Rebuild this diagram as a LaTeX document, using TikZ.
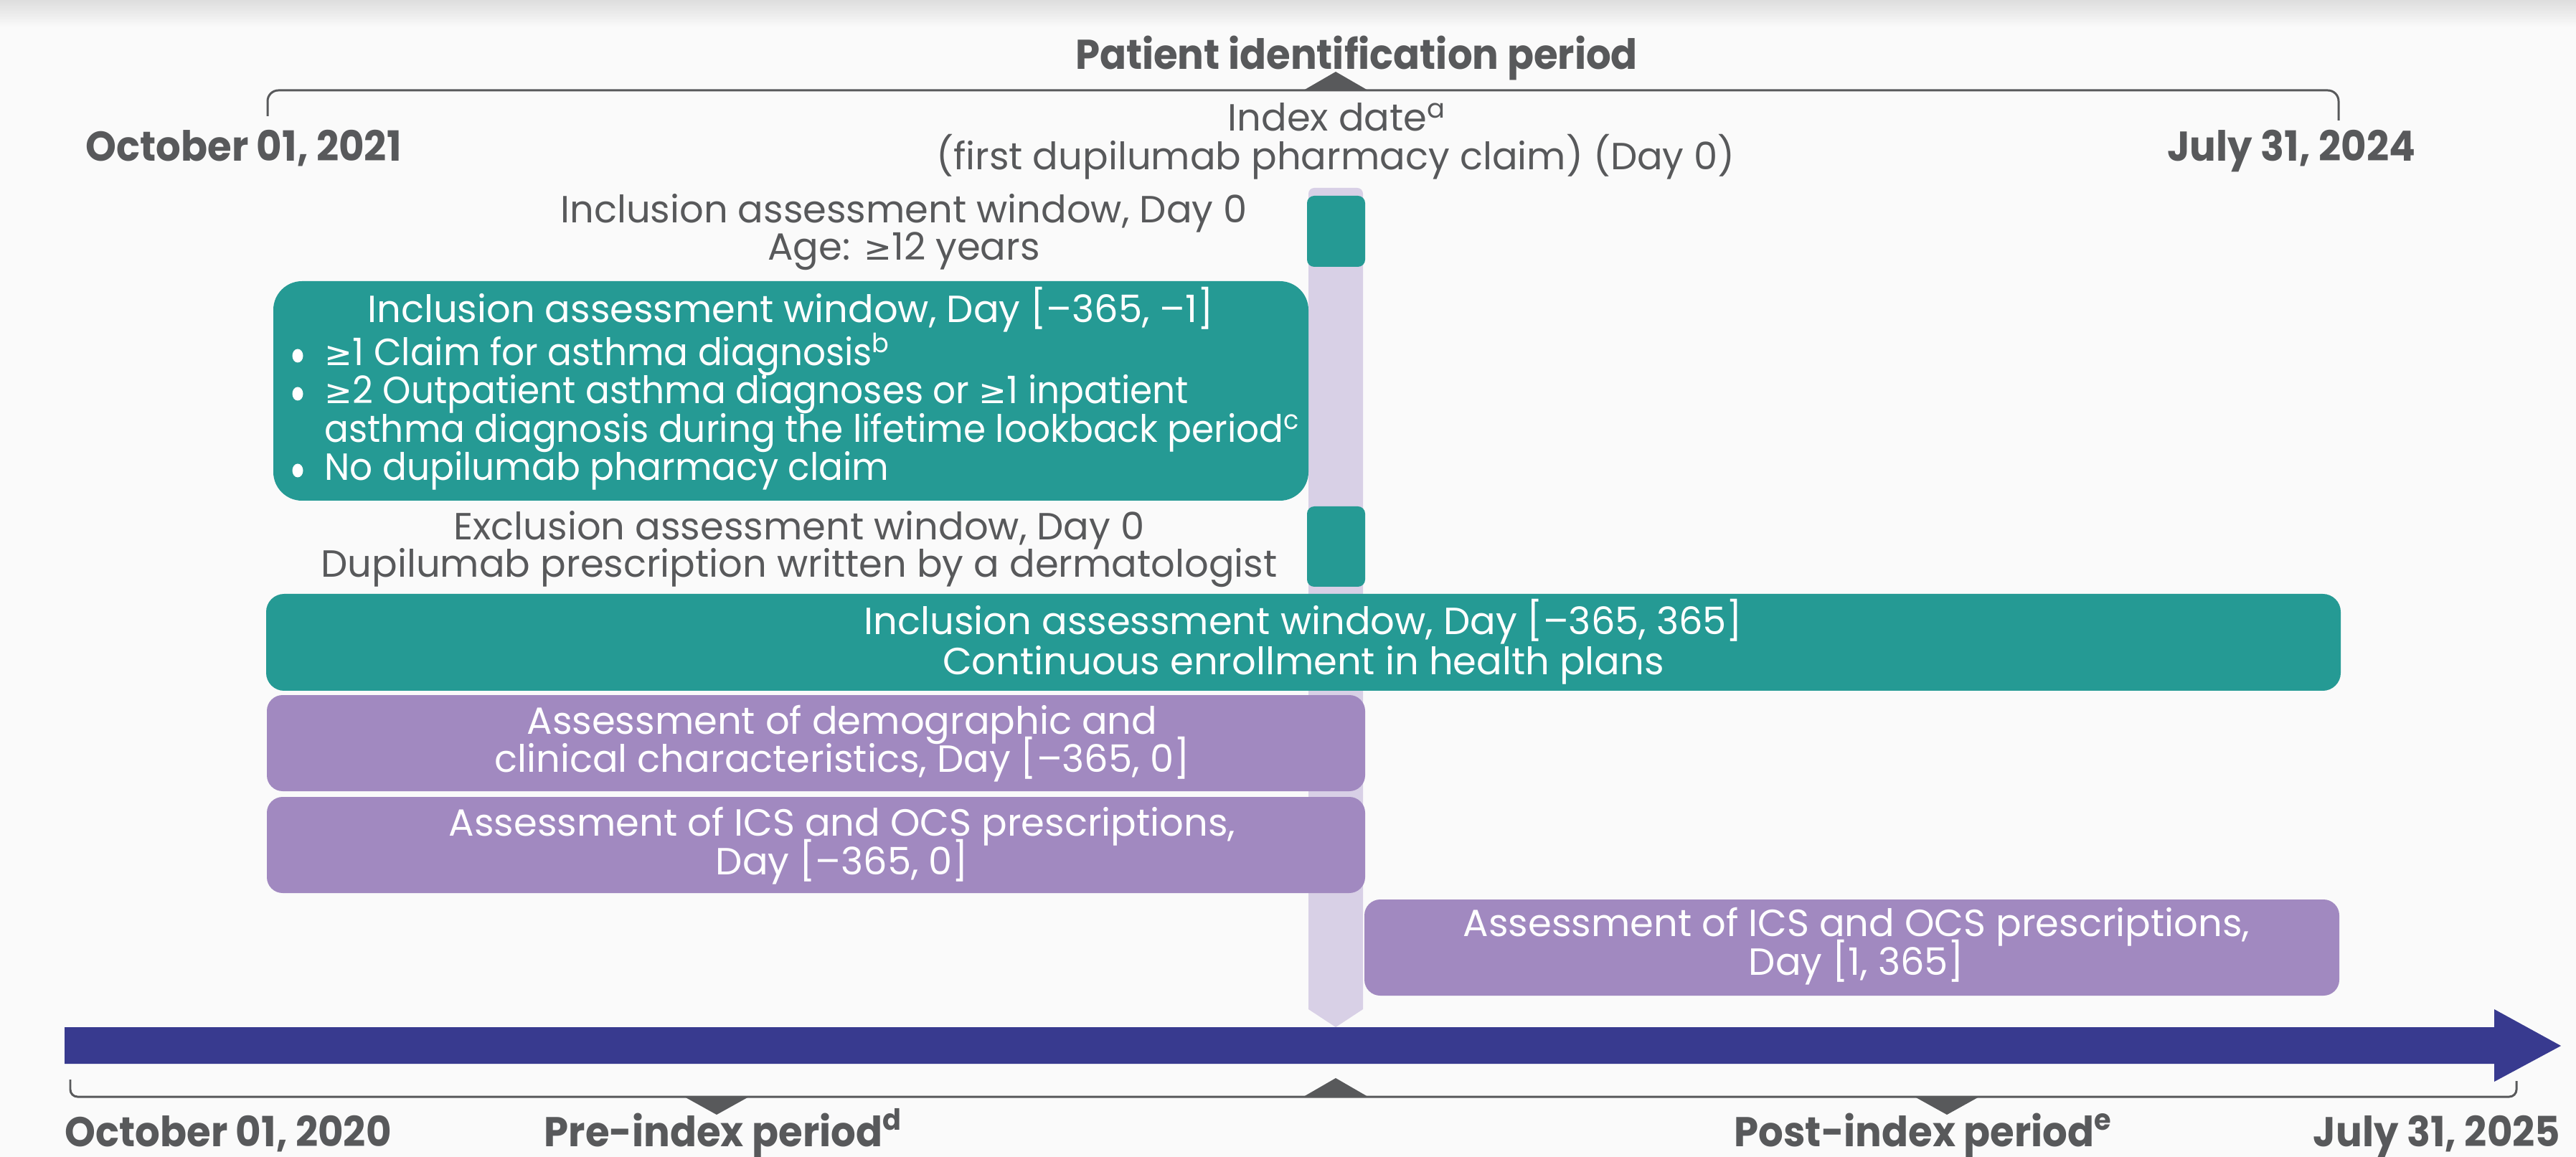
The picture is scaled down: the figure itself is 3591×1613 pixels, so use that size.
\documentclass[tikz,border=0pt]{standalone}
\usepackage{fontspec}
\setmainfont{Poppins}[BoldFeatures={FakeStretch=0.94}]
\newfontfamily\narrowfont{Poppins}[FakeStretch=0.95]
\newfontfamily\symfont{DejaVu Sans}[Scale=0.88]
\newcommand{\gesym}{{\symfont ≥}}
\definecolor{bgc}{HTML}{FAFAFA}
\definecolor{teal}{HTML}{259A94}
\definecolor{purp}{HTML}{A189C0}
\definecolor{lav}{HTML}{D8D0E6}
\definecolor{navy}{HTML}{383A8F}
\definecolor{gtxt}{HTML}{58595B}
\tikzset{
  reg/.style={inner sep=0pt, font=\fontsize{15pt}{15pt}\selectfont},
  graytxt/.style={reg, text=gtxt},
  whitetxt/.style={reg, text=white},
  bultxt/.style={inner sep=0pt, text=white, font=\fontsize{15pt}{15pt}\narrowfont},
  bul/.style={ellipse, fill=white, inner sep=0pt, minimum width=0.15cm, minimum height=0.19cm},
  boldtxt/.style={inner sep=0pt, text=gtxt, font=\fontsize{16.5pt}{16.5pt}\selectfont\bfseries},
  bracket/.style={draw=gtxt, line width=0.85pt},
  tri/.style={fill=gtxt},
}
\usetikzlibrary{shapes.geometric}
\begin{document}
\begin{tikzpicture}[x=0.01cm,y=-0.01cm]
\useasboundingbox (0,0) rectangle (3591,1613);
\fill[bgc] (0,0) rectangle (3591,1613);
\shade[top color=black!13, bottom color=bgc] (0,0) rectangle (3591,38);

% top bracket
\coordinate (tbl) at (373,162);
\coordinate (tbr) at (3260,168);
\draw[bracket, rounded corners=0.15cm] (tbl) |- (1862,126) -| (tbr);
\fill[tri] (1817,126) -- (1862,100) -- (1907,126) -- cycle;
\node[boldtxt, anchor=base] (pip) at (1891,97) {Patient identification period};
\node[boldtxt, anchor=base west] (d2021) at (119,225) {October 01, 2021};
\node[boldtxt, anchor=base east] (d2024) at (3368,225) {July 31, 2024};
\node[graytxt, anchor=base] (idx1) at (1864,183) {Index date\textsuperscript{a}};
\node[graytxt, anchor=base] (idx2) at (1862,237) {(first dupilumab pharmacy claim) (Day 0)};

% lavender index bar
\fill[lav] (1824,1407) [rounded corners=0.08cm] -- (1824,262) -- (1900,262) [sharp corners] -- (1900,1407) -- (1862,1432) -- cycle;

% small teal blocks
\fill[teal, rounded corners=0.1cm] (1822,273) rectangle (1903,372);
\fill[teal, rounded corners=0.1cm] (1822,706) rectangle (1903,818);

% inclusion day 0 text
\node[graytxt, anchor=base] (inc0a) at (1260,311) {Inclusion assessment window, Day 0};
\node[graytxt, anchor=base] (inc0b) at (1260,363) {Age: \gesym12 years};

% big teal box
\fill[teal, rounded corners=0.4cm] (381,392) rectangle (1824,698);
\node[whitetxt, anchor=base] (inc1t) at (1102,450) {Inclusion assessment window, Day [–365, –1]};
\node[bul] (b1) at (415,496) {};
\node[bultxt, anchor=base west] (l1) at (452,510) {\gesym1 Claim for asthma diagnosis\textsuperscript{b}};
\node[bul] (b2) at (415,549) {};
\node[bultxt, anchor=base west] (l2) at (452,563) {\gesym2 Outpatient asthma diagnoses or \gesym1 inpatient};
\node[bultxt, anchor=base west] (l3) at (452,617) {asthma diagnosis during the lifetime lookback period\textsuperscript{c}};
\node[bul] (b3) at (415,656) {};
\node[bultxt, anchor=base west] (l4) at (452,670) {No dupilumab pharmacy claim};

% exclusion text
\node[graytxt, anchor=base] (exa) at (1114,753) {Exclusion assessment window, Day 0};
\node[graytxt, anchor=base] (exb) at (1114,805) {Dupilumab prescription written by a dermatologist};

% wide teal box
\fill[teal, rounded corners=0.25cm] (371,828) rectangle (3263,963);
\node[whitetxt, anchor=base] (wa) at (1817,885) {Inclusion assessment window, Day [–365, 365]};
\node[whitetxt, anchor=base] (wb) at (1817,940) {Continuous enrollment in health plans};

% purple boxes
\fill[purp, rounded corners=0.22cm] (372,969) rectangle (1903,1103);
\node[whitetxt, anchor=base] (p1a) at (1174,1023) {Assessment of demographic and};
\node[whitetxt, anchor=base] (p1b) at (1174,1077) {clinical characteristics, Day [–365, 0]};
\fill[purp, rounded corners=0.22cm] (372,1111) rectangle (1903,1245);
\node[whitetxt, anchor=base] (p2a) at (1174,1165) {Assessment of ICS and OCS prescriptions,};
\node[whitetxt, anchor=base] (p2b) at (1174,1219) {Day [–365, 0]};
\fill[purp, rounded corners=0.22cm] (1902,1254) rectangle (3261,1388);
\node[whitetxt, anchor=base] (p3a) at (2588,1305) {Assessment of ICS and OCS prescriptions,};
\node[whitetxt, anchor=base] (p3b) at (2588,1359) {Day [1, 365]};

% timeline arrow
\fill[navy] (90,1432) -- (3477,1432) -- (3477,1407) -- (3570,1458) -- (3477,1508) -- (3477,1483) -- (90,1483) -- cycle;

% bottom bracket
\coordinate (bbl) at (98,1505);
\coordinate (bbr) at (3508,1507);
\draw[bracket, rounded corners=0.1cm] (bbl) |- (1862,1529) -| (bbr);
\fill[tri] (954,1529) -- (999,1554) -- (1044,1529) -- cycle;
\fill[tri] (2669,1529) -- (2714,1554) -- (2759,1529) -- cycle;
\fill[tri] (1817,1529) -- (1862,1503) -- (1907,1529) -- cycle;
\node[boldtxt, anchor=base west] (d2020) at (90,1598) {October 01, 2020};
\node[boldtxt, anchor=base west] (pre) at (758,1598) {Pre-index period\textsuperscript{d}};
\node[boldtxt, anchor=base west] (post) at (2417,1598) {Post-index period\textsuperscript{e}};
\node[boldtxt, anchor=base east] (d2025) at (3570,1598) {July 31, 2025};
\end{tikzpicture}
\end{document}
